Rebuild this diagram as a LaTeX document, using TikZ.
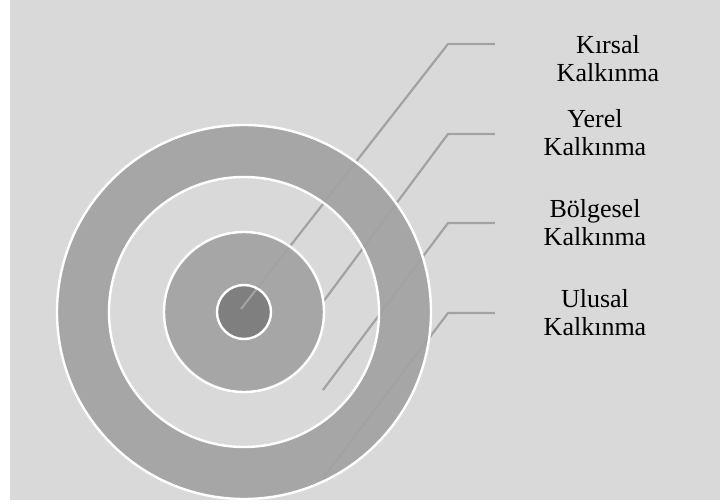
\documentclass[tikz,border=0pt]{standalone}
\usepackage{fontspec}
\setmainfont{Liberation Serif}
\definecolor{bg}{HTML}{D9D9D9}
\definecolor{ring}{HTML}{A6A6A6}
\definecolor{core}{HTML}{7F7F7F}
\definecolor{lead}{HTML}{A2A2A2}
\begin{document}
\begin{tikzpicture}[x=0.5pt,y=-0.5pt,
  leader/.style={draw=lead,line width=1.1pt},
  rim/.style={draw=white,line width=1.2pt},
  lbl/.style={align=center,anchor=base,inner sep=0pt,font=\fontsize{13}{14}\selectfont}]
\useasboundingbox (0,0) rectangle (720,504);
\fill[bg] (10,0) rectangle (720,500);
\coordinate (c) at (244,312);
\fill[ring] (c) circle[radius=187];
\fill[bg] (c) circle[radius=135];
\fill[ring] (c) circle[radius=80];
\fill[core] (c) circle[radius=27];
% leader points
\coordinate (e1) at (241,309);
\coordinate (k1) at (448,44);
\coordinate (h1) at (495,44);
\coordinate (e2) at (323,302);
\coordinate (k2) at (448,134);
\coordinate (h2) at (495,134);
\coordinate (e3) at (323,390);
\coordinate (k3) at (448,223);
\coordinate (h3) at (495,223);
\coordinate (e4) at (323,478);
\coordinate (k4) at (448,313);
\coordinate (h4) at (495,313);
\draw[leader] (e1) -- (k1) -- (h1);
\draw[leader] (e2) -- (k2) -- (h2);
\draw[leader] (e3) -- (k3) -- (h3);
\draw[leader] (e4) -- (k4) -- (h4);
\draw[rim] (c) circle[radius=187];
\draw[rim] (c) circle[radius=135];
\draw[rim] (c) circle[radius=80];
\draw[rim] (c) circle[radius=27];
\node[lbl] (t1) at (608,81) {Kırsal\\Kalkınma};
\node[lbl] (t2) at (595,155) {Yerel\\Kalkınma};
\node[lbl] (t3) at (595,245) {Bölgesel\\Kalkınma};
\node[lbl] (t4) at (595,335) {Ulusal\\Kalkınma};
\end{tikzpicture}
\end{document}
